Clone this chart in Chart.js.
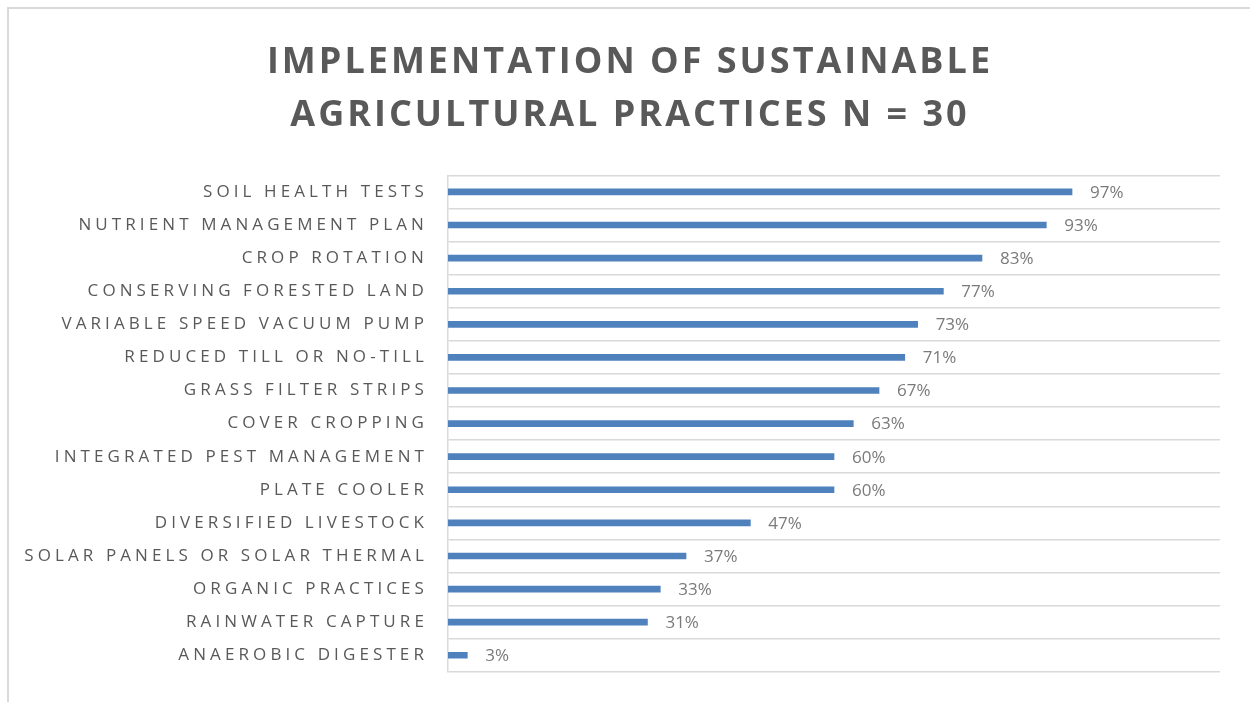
<!DOCTYPE html>
<html>
<head>
<meta charset="utf-8">
<title>Sustainable agricultural practices</title>
<script src="https://cdn.jsdelivr.net/npm/chart.js@4.4.1/dist/chart.umd.min.js"></script>
<style>
  html, body { margin: 0; padding: 0; background: #fff; }
  #frame {
    position: absolute; left: 7px; top: 7px; width: 1400px; height: 800px;
    border: 2px solid #d9d9d9; box-sizing: border-box;
  }
  #wrap { position: absolute; left: 0; top: 0; width: 1250px; height: 702px; }
</style>
</head>
<body>
<div id="frame"></div>
<div id="wrap"><canvas id="practices"></canvas></div>
<script>
const practices = [
  "SOIL HEALTH TESTS",
  "NUTRIENT MANAGEMENT PLAN",
  "CROP ROTATION",
  "CONSERVING FORESTED LAND",
  "VARIABLE SPEED VACUUM PUMP",
  "REDUCED TILL OR NO-TILL",
  "GRASS FILTER STRIPS",
  "COVER CROPPING",
  "INTEGRATED PEST MANAGEMENT",
  "PLATE COOLER",
  "DIVERSIFIED LIVESTOCK",
  "SOLAR PANELS OR SOLAR THERMAL",
  "ORGANIC PRACTICES",
  "RAINWATER CAPTURE",
  "ANAEROBIC DIGESTER"
];
const percentImplemented = [97, 93, 83, 77, 73, 71, 67, 63, 60, 60, 47, 37, 33, 31, 3];
const titleLines = ["IMPLEMENTATION OF SUSTAINABLE", "AGRICULTURAL PRACTICES N = 30"];

const plotLeft = 448;
const plotRight = 1220;

// tracked letter spacing: the title uses a little less than the category labels.
// labels sit on z:1 so they are drawn after the bars, once the spacing is switched.
// canvas state is reset on resize, hence setting it again before layout/draw.
const spacing = {
  id: "spacing",
  beforeUpdate(chart) { chart.ctx.letterSpacing = "4.1px"; },
  afterLayout(chart) {
    // centre the title over the whole frame rather than the padded box
    chart.titleBlock.left = 40;
    chart.titleBlock.right = plotRight;
  },
  beforeDraw(chart) { chart.ctx.letterSpacing = "3px"; },
  afterDatasetsDraw(chart) { chart.ctx.letterSpacing = "4.1px"; }
};

// percentage text just past the end of each bar
const barValues = {
  id: "barValues",
  afterDatasetsDraw(chart) {
    const ctx = chart.ctx;
    const meta = chart.getDatasetMeta(0);
    ctx.save();
    ctx.letterSpacing = "0px";
    ctx.font = "17px 'Open Sans'";
    ctx.fillStyle = "#7a7a7a";
    ctx.textAlign = "left";
    ctx.textBaseline = "middle";
    meta.data.forEach((bar, i) => {
      ctx.fillText(percentImplemented[i] + "%", bar.x + 18, bar.y + 1);
    });
    ctx.restore();
  }
};

new Chart("practices", {
  type: "bar",
  data: {
    labels: practices,
    datasets: [{
      data: percentImplemented,
      backgroundColor: "#4f81bd",
      barThickness: 6
    }]
  },
  options: {
    indexAxis: "y",
    responsive: true,
    maintainAspectRatio: false,
    animation: false,
    layout: { padding: { left: 0, right: 1250 - plotRight, top: 0, bottom: 28 } },
    plugins: {
      legend: { display: false },
      tooltip: { enabled: false },
      title: {
        display: true,
        text: titleLines,
        color: "#595959",
        font: { family: "'Open Sans'", size: 36, weight: "bold", lineHeight: 1.45 },
        padding: { top: 37, bottom: 34 }
      }
    },
    scales: {
      x: {
        display: false,
        min: 0,
        max: 120
      },
      y: {
        afterFit(scale) { scale.width = plotLeft; },
        grid: {
          color: "#d9d9d9",
          lineWidth: 1.5,
          drawTicks: false,
          offset: true
        },
        border: { display: true, color: "#d9d9d9", width: 1.5 },
        ticks: {
          z: 1,
          color: "#595959",
          padding: 20,
          font: { family: "'Open Sans'", size: 17 }
        }
      }
    }
  },
  plugins: [spacing, barValues]
});
</script>
</body>
</html>
